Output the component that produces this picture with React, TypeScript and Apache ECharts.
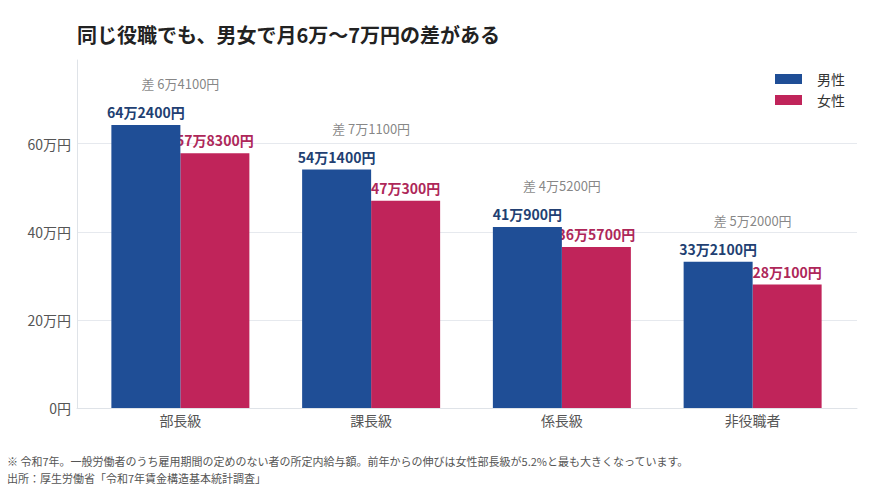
import { useEffect, useRef } from "react";
import * as echarts from "echarts";

const categories = ["部長級", "課長級", "係長級", "非役職者"];
const maleValues = [642400, 541400, 410900, 332100];
const femaleValues = [578300, 470300, 365700, 280100];
const yTicks = [0, 200000, 400000, 600000];
const yMax = 790000;

const seriesNames = ["男性", "女性"];
const title = "同じ役職でも、男女で月6万〜7万円の差がある";
const notes = [
  "※ 令和7年。一般労働者のうち雇用期間の定めのない者の所定内給与額。前年からの伸びは女性部長級が5.2%と最も大きくなっています。",
  "出所：厚生労働省「令和7年賃金構造基本統計調査」",
];

const FONT = '"Noto Sans CJK JP", "Noto Sans", sans-serif';
const BLUE = "#1f4e96";
const RED = "#c0245a";

// 642400 -> 64万2400円
const formatYen = (v: number) => {
  const man = Math.floor(v / 10000);
  const rest = v % 10000;
  if (man === 0) return `${rest}円`;
  return rest > 0 ? `${man}万${rest}円` : `${man}万円`;
};

const App = () => {
  const chartRef = useRef<HTMLDivElement>(null);

  useEffect(() => {
    document.body.style.margin = "0";
    if (!chartRef.current) return;

    const chart = echarts.init(chartRef.current, undefined, { renderer: "svg" });
    const diffs = maleValues.map((m, i) => m - femaleValues[i]);

    const option: echarts.EChartsOption = {
      animation: false,
      backgroundColor: "#ffffff",
      textStyle: { fontFamily: FONT },
      title: {
        text: title,
        left: 77,
        top: 24,
        padding: 0,
        textStyle: { fontFamily: FONT, fontSize: 20, fontWeight: "bold", color: "#222222" },
      },
      legend: {
        data: seriesNames,
        orient: "vertical",
        right: 20,
        top: 67,
        itemWidth: 27,
        itemHeight: 10,
        itemGap: 7,
        icon: "rect",
        textStyle: { fontFamily: FONT, fontSize: 14, color: "#333333", padding: [0, 0, 0, 10] },
      },
      grid: [
        // bars
        { left: 85, right: 22, top: 60, bottom: 81 },
        // frame: axis lines + split lines
        { left: 77, right: 13, top: 60, bottom: 81 },
      ],
      xAxis: [
        {
          type: "category",
          gridIndex: 0,
          data: categories,
          axisLine: { show: false },
          axisTick: { show: false },
          axisLabel: { fontFamily: FONT, fontSize: 14, color: "#555555", margin: 5 },
        },
        {
          type: "category",
          gridIndex: 1,
          data: categories,
          axisLine: { lineStyle: { color: "#dfe3e8" } },
          axisTick: { show: false },
          axisLabel: { show: false },
        },
      ],
      yAxis: [
        {
          type: "value",
          gridIndex: 0,
          min: 0,
          max: yMax,
          show: false,
        },
        {
          type: "value",
          gridIndex: 1,
          min: 0,
          max: yMax,
          interval: yTicks[1] - yTicks[0],
          axisLine: { show: true, lineStyle: { color: "#dfe3e8" } },
          axisTick: { show: false },
          axisLabel: {
            fontFamily: FONT,
            fontSize: 14,
            color: "#555555",
            margin: 6,
            showMaxLabel: false,
            formatter: (v: number) => (yTicks.includes(v) ? formatYen(v) : ""),
          },
          splitLine: { showMaxLine: false, lineStyle: { color: "#e6e9ee" } },
        },
      ],
      series: [
        {
          name: seriesNames[0],
          type: "bar",
          xAxisIndex: 0,
          yAxisIndex: 0,
          data: maleValues,
          barWidth: 69,
          barGap: "0%",
          z: 3,
          itemStyle: { color: BLUE },
          label: {
            show: true,
            position: "top",
            distance: 6,
            fontFamily: FONT,
            fontSize: 14,
            fontWeight: "bold",
            color: "#223f72",
            formatter: (p: any) => formatYen(p.value),
          },
        },
        {
          name: seriesNames[1],
          type: "bar",
          xAxisIndex: 0,
          yAxisIndex: 0,
          data: femaleValues,
          barWidth: 69,
          barGap: "0%",
          z: 2,
          itemStyle: { color: RED },
          label: {
            show: true,
            position: "top",
            distance: 6,
            fontFamily: FONT,
            fontSize: 14,
            fontWeight: "bold",
            color: "#ae2759",
            formatter: (p: any) => formatYen(p.value),
          },
        },
        {
          // gap labels above each group
          name: "差",
          type: "scatter",
          xAxisIndex: 0,
          yAxisIndex: 0,
          data: maleValues,
          symbolSize: 0,
          z: 4,
          silent: true,
          label: {
            show: true,
            position: "top",
            distance: 35,
            fontFamily: FONT,
            fontSize: 13,
            color: "#666666",
            formatter: (p: any) => `差 ${formatYen(diffs[p.dataIndex])}`,
          },
        },
      ],
      graphic: notes.map((t, i) => ({
        type: "text",
        left: 7,
        top: 455 + i * 17,
        style: { text: t, fontFamily: FONT, fontSize: 11, fill: "#555555" },
      })),
    };

    chart.setOption(option);

    return () => {
      chart.dispose();
    };
  }, []);

  return <div ref={chartRef} style={{ width: "870px", height: "489px" }} />;
};

export default App;
